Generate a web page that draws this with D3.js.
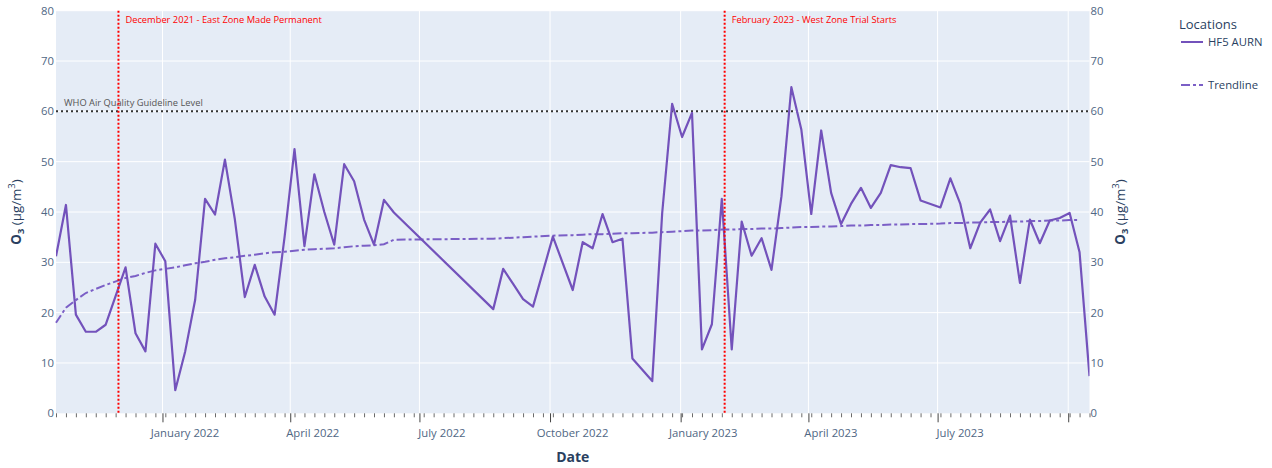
<!DOCTYPE html>
<html>
<head>
<meta charset="utf-8">
<script src="https://cdn.jsdelivr.net/npm/d3@7"></script>
<style>
  body { margin: 0; background: #fff; }
  text { font-family: "Open Sans", verdana, arial, sans-serif; }
</style>
</head>
<body>
<div class="chart"></div>
<script>
// weekly O3 readings, HF5 AURN
var dates = ["2021-10-18","2021-10-25","2021-11-01","2021-11-08","2021-11-15","2021-11-22","2021-12-06","2021-12-13","2021-12-20","2021-12-27",
  "2022-01-03","2022-01-10","2022-01-17","2022-01-24","2022-01-31","2022-02-07","2022-02-14","2022-02-21","2022-02-28","2022-03-07",
  "2022-03-14","2022-03-21","2022-03-28","2022-04-04","2022-04-11","2022-04-18","2022-04-25","2022-05-02","2022-05-09","2022-05-16",
  "2022-05-23","2022-05-30","2022-06-06","2022-06-13","2022-08-22","2022-08-29","2022-09-05","2022-09-12","2022-09-19","2022-10-03",
  "2022-10-17","2022-10-24","2022-10-31","2022-11-07","2022-11-14","2022-11-21","2022-11-28","2022-12-12","2022-12-19","2022-12-26",
  "2023-01-02","2023-01-09","2023-01-16","2023-01-23","2023-01-30","2023-02-06","2023-02-13","2023-02-20","2023-02-27","2023-03-06",
  "2023-03-13","2023-03-20","2023-03-27","2023-04-03","2023-04-10","2023-04-17","2023-04-24","2023-05-01","2023-05-08","2023-05-15",
  "2023-05-22","2023-05-29","2023-06-05","2023-06-12","2023-06-19","2023-07-03","2023-07-10","2023-07-17","2023-07-24","2023-07-31",
  "2023-08-07","2023-08-14","2023-08-21","2023-08-28","2023-09-04","2023-09-11","2023-09-18","2023-09-25","2023-10-02","2023-10-09",
  "2023-10-16"];

var o3 = [31.2,41.4,19.6,16.2,16.2,17.6,29.0,15.9,12.3,33.7,
  30.2,4.6,12.3,22.5,42.6,39.5,50.4,38.5,23.1,29.5,
  23.2,19.6,35.0,52.5,33.2,47.5,40.0,33.5,49.5,46.1,
  38.5,33.5,42.4,39.9,20.7,28.7,25.7,22.7,21.2,35.1,
  24.5,34.0,32.8,39.6,34.0,34.7,10.9,6.4,39.8,61.5,
  54.9,59.7,12.7,17.7,42.6,12.7,38.1,31.3,34.8,28.5,
  43.1,64.8,56.4,39.6,56.2,43.8,37.6,41.6,44.8,40.8,
  43.8,49.3,48.9,48.7,42.3,40.9,46.7,41.6,32.8,37.9,
  40.5,34.2,39.3,25.9,38.5,33.8,38.3,38.8,39.8,32.0,
  7.4];

var trend = [18.0,21.0,22.5,23.9,24.7,25.5,26.9,27.3,27.9,28.4,
  28.7,29.0,29.4,29.8,30.1,30.5,30.8,31.0,31.3,31.5,
  31.8,32.0,32.1,32.3,32.5,32.6,32.7,32.8,33.0,33.2,
  33.3,33.4,33.6,34.5,34.7,34.8,34.9,35.0,35.1,35.3,
  35.4,35.5,35.6,35.6,35.7,35.8,35.8,35.9,36.0,36.1,
  36.2,36.3,36.3,36.4,36.5,36.5,36.6,36.6,36.7,36.7,
  36.8,36.9,37.0,37.0,37.1,37.1,37.2,37.3,37.3,37.4,
  37.4,37.5,37.5,37.6,37.6,37.7,37.8,37.8,37.9,37.9,
  38.0,38.0,38.1,38.1,38.2,38.2,38.3,38.3,38.4,38.4,
  null];

var yTicks = [0,10,20,30,40,50,60,70,80];
var majorTicks = ["2022-01-01","2022-04-01","2022-07-01","2022-10-01","2023-01-01","2023-04-01","2023-07-01","2023-10-01"];
var events = [
  {date: "2021-12-01", label: "December 2021 - East Zone Made Permanent"},
  {date: "2023-02-01", label: "February 2023 - West Zone Trial Starts"}
];
var whoLevel = 60;

make_chart();

function make_chart() {
  var parse = d3.timeParse("%Y-%m-%d");
  var fmt = d3.timeFormat("%B %Y");
  var data = dates.map(function(d, i) { return {date: parse(d), v: o3[i], t: trend[i]}; });

  var W = 1272, H = 468;
  var pl = 56, pr = 1089.5, pt = 10.7, pb = 413.3;
  var tickFont = 11.3;

  var svg = d3.select(".chart").append("svg")
    .attr("width", W).attr("height", H);

  var x = d3.scaleTime()
    .domain(d3.extent(data, function(d) { return d.date; }))
    .range([pl, pr]);
  var y = d3.scaleLinear().domain([0, 80]).range([pb, pt]);

  svg.append("rect")
    .attr("x", pl).attr("y", pt)
    .attr("width", pr - pl).attr("height", pb - pt)
    .attr("fill", "#e5ecf6");

  // grid
  svg.append("g").selectAll("line")
    .data(yTicks.slice(1)).enter().append("line")
    .attr("x1", pl).attr("x2", pr)
    .attr("y1", function(d) { return y(d); }).attr("y2", function(d) { return y(d); })
    .attr("stroke", "#fff").attr("stroke-width", 1);

  var majors = majorTicks.map(parse);
  svg.append("g").selectAll("line")
    .data(majors).enter().append("line")
    .attr("x1", function(d) { return x(d); }).attr("x2", function(d) { return x(d); })
    .attr("y1", pt).attr("y2", pb)
    .attr("stroke", "#fff").attr("stroke-width", 1);

  // minor weekly ticks
  var minor = d3.timeMonday.range(x.domain()[0], d3.timeDay.offset(x.domain()[1], 1));
  svg.append("g")
    .attr("transform", "translate(0," + pb + ")")
    .call(d3.axisBottom(x).tickValues(minor).tickSize(4).tickFormat(""))
    .call(function(g) {
      g.select(".domain").remove();
      g.selectAll("line").attr("stroke", "#6b6b6b").attr("stroke-width", 1);
    });

  // major ticks + labels
  var xAxis = svg.append("g")
    .attr("transform", "translate(0," + pb + ")")
    .call(d3.axisBottom(x).tickValues(majors).tickSize(9).tickFormat(fmt));
  xAxis.select(".domain").remove();
  xAxis.selectAll("line").attr("stroke", "#444");
  xAxis.selectAll("text")
    .attr("fill", "#506784").attr("font-size", tickFont)
    .attr("dx", 22).attr("dy", 12)
    .style("font-family", "'Open Sans', verdana, arial, sans-serif")
    .style("display", function(d) { return x(d) + 60 > pr ? "none" : null; });

  // y axes
  function styleY(g) {
    g.select(".domain").remove();
    g.selectAll("line").remove();
    g.selectAll("text").attr("fill", "#506784").attr("font-size", tickFont)
      .style("font-family", "'Open Sans', verdana, arial, sans-serif");
  }
  svg.append("g").attr("transform", "translate(" + (pl - 2) + ",0)")
    .call(d3.axisLeft(y).tickValues(yTicks).tickSize(0).tickPadding(0))
    .call(styleY);
  svg.append("g").attr("transform", "translate(" + (pr + 1) + ",0)")
    .call(d3.axisRight(y).tickValues(yTicks).tickSize(0).tickPadding(0))
    .call(styleY);

  // WHO guideline
  svg.append("line")
    .attr("x1", pl).attr("x2", pr)
    .attr("y1", y(whoLevel)).attr("y2", y(whoLevel))
    .attr("stroke", "#333").attr("stroke-width", 2).attr("stroke-dasharray", "2,3");
  svg.append("text")
    .attr("x", pl + 8).attr("y", y(whoLevel) - 5)
    .attr("font-size", 9.3).attr("fill", "#555")
    .text("WHO Air Quality Guideline Level");

  // lines
  var line = d3.line()
    .x(function(d) { return x(d.date); })
    .y(function(d) { return y(d.v); });
  var trendLine = d3.line()
    .defined(function(d) { return d.t != null; })
    .x(function(d) { return x(d.date); })
    .y(function(d) { return y(d.t); });

  svg.append("clipPath").attr("id", "plotclip").append("rect")
    .attr("x", pl).attr("y", pt).attr("width", pr - pl).attr("height", pb - pt);

  svg.append("path").datum(data)
    .attr("d", trendLine)
    .attr("fill", "none").attr("stroke", "#7b5fc6").attr("stroke-width", 2)
    .attr("stroke-dasharray", "9,3,3,3");

  svg.append("path").datum(data)
    .attr("clip-path", "url(#plotclip)")
    .attr("d", line)
    .attr("fill", "none").attr("stroke", "#7352bb").attr("stroke-width", 2.2)
    .attr("stroke-linejoin", "round");

  // event markers
  events.forEach(function(e) {
    var ex = x(parse(e.date));
    svg.append("line")
      .attr("x1", ex).attr("x2", ex).attr("y1", pt).attr("y2", pb)
      .attr("stroke", "red").attr("stroke-width", 2).attr("stroke-dasharray", "2,2");
    svg.append("text")
      .attr("x", ex + 7).attr("y", 23)
      .attr("font-size", 9.3).attr("fill", "red")
      .text(e.label);
  });

  // axis titles
  svg.append("text")
    .attr("x", (pl + pr) / 2).attr("y", 462)
    .attr("text-anchor", "middle")
    .attr("font-size", 14).attr("font-weight", "bold").attr("fill", "#2a3f5f")
    .text("Date");

  function yTitle(tx) {
    var t = svg.append("text")
      .attr("transform", "translate(" + tx + "," + ((pt + pb) / 2) + ") rotate(-90)")
      .attr("text-anchor", "middle")
      .attr("font-size", 13.3).attr("fill", "#2a3f5f");
    t.append("tspan").attr("font-weight", "bold").text("O");
    t.append("tspan").attr("font-weight", "bold").attr("font-size", 9.5).attr("dy", 3).text("3");
    t.append("tspan").attr("dy", -3).text(" (μg/m");
    t.append("tspan").attr("font-size", 9.5).attr("dy", -6).text("3");
    t.append("tspan").attr("dy", 6).text(")");
  }
  yTitle(21);
  yTitle(1125);

  // legend
  var lg = svg.append("g");
  lg.append("text").attr("x", 1179).attr("y", 29)
    .attr("font-size", 13).attr("fill", "#2a3f5f").text("Locations");
  lg.append("line").attr("x1", 1181).attr("x2", 1203).attr("y1", 42).attr("y2", 42)
    .attr("stroke", "#7352bb").attr("stroke-width", 2);
  lg.append("text").attr("x", 1208).attr("y", 46)
    .attr("font-size", tickFont).attr("fill", "#2a3f5f").text("HF5 AURN");
  lg.append("line").attr("x1", 1181).attr("x2", 1203).attr("y1", 85).attr("y2", 85)
    .attr("stroke", "#7b5fc6").attr("stroke-width", 2).attr("stroke-dasharray", "9,3,3,3");
  lg.append("text").attr("x", 1208).attr("y", 89)
    .attr("font-size", tickFont).attr("fill", "#2a3f5f").text("Trendline");
}
</script>
</body>
</html>
